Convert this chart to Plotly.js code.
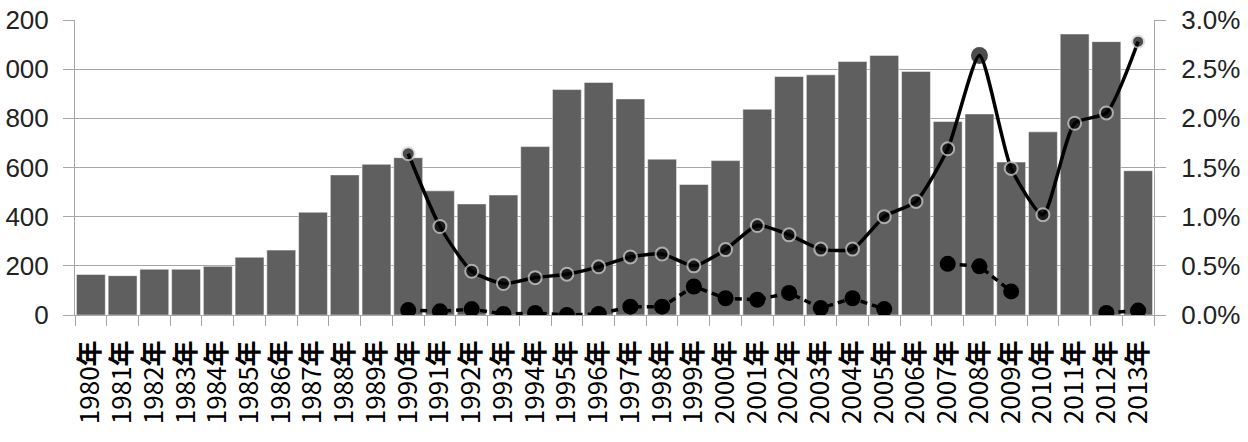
<!DOCTYPE html>
<html>
<head>
<meta charset="utf-8">
<script src="https://cdn.plot.ly/plotly-3.0.1.min.js"></script>
<style>
  html, body { margin: 0; padding: 0; background: #ffffff; }
  #chart { width: 1248px; height: 442px; }
</style>
</head>
<body>
<div id="chart"></div>
<script>
var years = ["1980年","1981年","1982年","1983年","1984年","1985年","1986年","1987年","1988年","1989年",
             "1990年","1991年","1992年","1993年","1994年","1995年","1996年","1997年","1998年","1999年",
             "2000年","2001年","2002年","2003年","2004年","2005年","2006年","2007年","2008年","2009年",
             "2010年","2011年","2012年","2013年"];

var barValues = [165, 160, 186, 186, 198, 235, 264, 418, 570, 613,
                 640, 505, 452, 488, 685, 917, 946, 879, 634, 531,
                 628, 837, 970, 977, 1031, 1056, 991, 787, 818, 622,
                 745, 1143, 1112, 587];

var rateSolid = [null, null, null, null, null, null, null, null, null, null,
                 1.64, 0.90, 0.445, 0.32, 0.38, 0.415, 0.49, 0.59, 0.62, 0.50,
                 0.665, 0.91, 0.815, 0.67, 0.67, 1.00, 1.155, 1.69, 2.64, 1.49,
                 1.02, 1.95, 2.055, 2.78];

var rateDashed = [null, null, null, null, null, null, null, null, null, null,
                  0.05, 0.037, 0.06, 0.01, 0.02, 0.0, 0.01, 0.085, 0.085, 0.29,
                  0.17, 0.155, 0.225, 0.07, 0.17, 0.06, null, 0.52, 0.495, 0.24,
                  null, null, 0.02, 0.045];

// left labels as they appear in the reference (the leading "1," is cropped off there)
var leftTickVals = [0, 200, 400, 600, 800, 1000, 1200];
var leftTickText = ["0", "200", "400", "600", "800", "000", "200"];
var rightTickVals = [0, 0.5, 1.0, 1.5, 2.0, 2.5, 3.0];
var rightTickText = ["0.0%", "0.5%", "1.0%", "1.5%", "2.0%", "2.5%", "3.0%"];

// category tick labels: year digits + bold 年 as in the reference
var yearTickText = years.map(function (y) { return y.replace("年", "<b>年</b>"); });

// marker styling for the solid series (2008 point is a plain larger dot)
var solidSizes = years.map(function (y) { return y === "2008年" ? 17 : (y === "2013年" ? 12 : 13); });
var solidLineW = years.map(function (y) { return y === "2008年" ? 0 : 2; });

var fontFam = "Liberation Sans, Arial, Noto Sans CJK SC, sans-serif";
var narrowFam = "Liberation Sans Narrow, Arial Narrow, Noto Sans CJK SC, sans-serif";

var traces = [
  {
    type: "bar",
    x: years,
    y: barValues,
    marker: { color: "#5f5f5f", line: { color: "#ffffff", width: 0.5 } },
    yaxis: "y",
    hoverinfo: "x+y"
  },
  {
    type: "scatter",
    mode: "lines+markers",
    x: years,
    y: rateSolid,
    yaxis: "y2",
    line: { color: "#000000", width: 3.5, shape: "spline", smoothing: 0.6 },
    marker: { color: "#000000", size: solidSizes, line: { color: "#cfcfcf", width: solidLineW } },
    connectgaps: false
  },
  {
    type: "scatter",
    mode: "lines+markers",
    x: years,
    y: rateDashed,
    yaxis: "y2",
    line: { color: "#000000", width: 3.5, dash: "7px,5px" },
    marker: { color: "#000000", size: 16 },
    connectgaps: false
  }
];

var layout = {
  width: 1248,
  height: 442,
  margin: { l: 75, r: 94, t: 20, b: 127, pad: 0 },
  paper_bgcolor: "#ffffff",
  plot_bgcolor: "#ffffff",
  showlegend: false,
  bargap: 0.09,
  font: { family: fontFam, color: "#000000" },
  xaxis: {
    type: "category",
    range: [-0.5, years.length - 0.5],
    tickmode: "array",
    tickvals: years,
    ticktext: yearTickText,
    tickangle: -90,
    tickfont: { family: narrowFam, size: 26, color: "#000000" },
    ticks: "outside",
    tickson: "boundaries",
    ticklen: 10,
    tickcolor: "#a6a6a6",
    tickwidth: 1,
    showline: true,
    linecolor: "#a6a6a6",
    linewidth: 1,
    showgrid: false,
    zeroline: false,
    ticklabelstandoff: 14,
    fixedrange: true
  },
  yaxis: {
    range: [0, 1200],
    tickvals: leftTickVals,
    ticktext: leftTickText,
    tickfont: { family: fontFam, size: 26, color: "#222222" },
    ticks: "outside",
    ticklen: 11,
    tickcolor: "#a6a6a6",
    showline: true,
    linecolor: "#a6a6a6",
    showgrid: true,
    gridcolor: "#a6a6a6",
    gridwidth: 1,
    zeroline: false,
    ticklabelstandoff: 9,
    fixedrange: true
  },
  yaxis2: {
    overlaying: "y",
    side: "right",
    range: [0, 3.0],
    tickvals: rightTickVals,
    ticktext: rightTickText,
    tickfont: { family: fontFam, size: 26, color: "#222222" },
    ticks: "outside",
    ticklen: 11,
    tickcolor: "#a6a6a6",
    showline: true,
    linecolor: "#a6a6a6",
    showgrid: false,
    zeroline: false,
    ticklabelstandoff: 10,
    fixedrange: true
  }
};

Plotly.newPlot("chart", traces, layout, { displayModeBar: false, staticPlot: true });
</script>
</body>
</html>
